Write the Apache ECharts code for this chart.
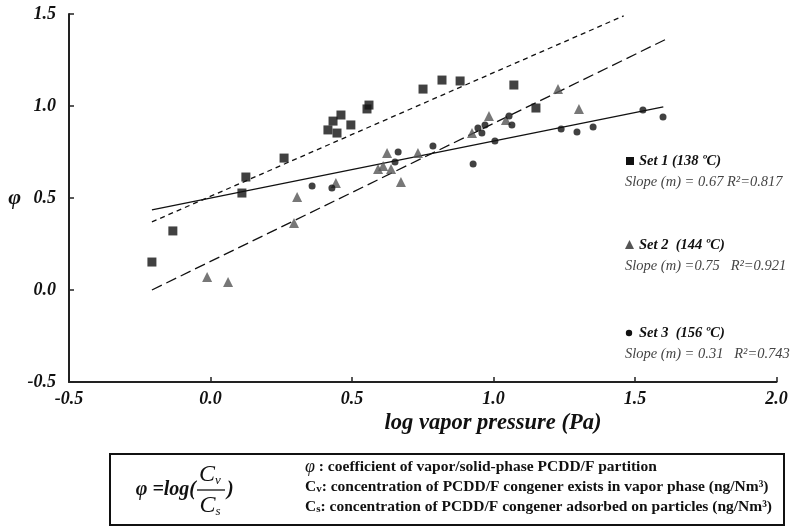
<!DOCTYPE html>
<html>
<head>
<meta charset="utf-8">
<script src="https://cdn.jsdelivr.net/npm/echarts@6/dist/echarts.min.js"></script>
<style>
    html, body { margin: 0; padding: 0; background: #fff; }
    #chart { width: 795px; height: 532px; }
</style>
</head>
<body>
<div id="chart"></div>
<script>
const SERIF = "'Liberation Serif', 'Times New Roman', serif";

// Set 1 (138 ºC) - squares
const set1 = [
    [-0.207, 0.152], [-0.133, 0.321], [0.111, 0.527], [0.125, 0.614],
    [0.26, 0.717], [0.415, 0.87], [0.433, 0.918], [0.447, 0.853],
    [0.461, 0.951], [0.496, 0.897], [0.553, 0.984], [0.56, 1.005],
    [0.751, 1.092], [0.818, 1.141], [0.882, 1.136], [1.072, 1.114],
    [1.15, 0.989],
];

// Set 2 (144 ºC) - triangles
const set2 = [
    [-0.012, 0.071], [0.062, 0.043], [0.295, 0.364], [0.306, 0.505],
    [0.443, 0.582], [0.592, 0.658], [0.61, 0.674], [0.638, 0.658],
    [0.624, 0.745], [0.673, 0.587], [0.733, 0.745], [0.924, 0.853],
    [0.984, 0.946], [1.044, 0.924], [1.228, 1.092], [1.302, 0.984],
];

// Set 3 (156 ºC) - circles
const set3 = [
    [0.359, 0.565], [0.429, 0.554], [0.663, 0.75], [0.652, 0.696],
    [0.786, 0.783], [0.928, 0.685], [0.945, 0.88], [0.959, 0.853],
    [0.97, 0.897], [1.005, 0.81], [1.055, 0.946], [1.065, 0.897],
    [1.239, 0.875], [1.295, 0.859], [1.352, 0.886], [1.528, 0.978],
    [1.599, 0.94],
];

// regression line end points
const fit1 = [[-0.207, 0.37], [1.46, 1.49]];
const fit2 = [[-0.207, 0.0], [1.606, 1.36]];
const fit3 = [[-0.207, 0.435], [1.6, 0.995]];

const xTicks = [-0.5, 2.0, 0.5];
const yTicks = [-0.5, 1.5, 0.5];

const legendItems = [
    { title: "Set 1 (138 ºC)", stat: "Slope (m) = 0.67 R²=0.817", y: 161 },
    { title: "Set 2  (144 ºC)", stat: "Slope (m) =0.75   R²=0.921", y: 245 },
    { title: "Set 3  (156 ºC)", stat: "Slope (m) = 0.31   R²=0.743", y: 333 },
];

const chart = echarts.init(document.getElementById("chart"));

const axisCommon = {
    type: "value",
    splitLine: { show: false },
    axisLine: { show: true, onZero: false, lineStyle: { color: "#222", width: 2 } },
    axisTick: { show: true, inside: true, length: 5, lineStyle: { color: "#222", width: 1.5 } },
    axisLabel: {
        color: "#111",
        fontFamily: SERIF,
        fontStyle: "italic",
        fontWeight: "bold",
        fontSize: 18,
        formatter: (v) => v.toFixed(1),
    },
};

const fitLine = (data, dash) => ({
    type: "line",
    data: data,
    symbol: "none",
    silent: true,
    z: 1,
    lineStyle: { color: "#111", width: 1.3, type: dash },
});

const legendGraphics = [];
legendItems.forEach((l, i) => {
    if (i === 0) {
        legendGraphics.push({ type: "rect", shape: { x: 626, y: l.y - 4, width: 8, height: 8 }, style: { fill: "#111" } });
    } else if (i === 1) {
        legendGraphics.push({ type: "polygon", shape: { points: [[625, l.y + 4], [634, l.y + 4], [629.5, l.y - 5]] }, style: { fill: "#555" } });
    } else {
        legendGraphics.push({ type: "circle", shape: { cx: 629, cy: l.y, r: 3.2 }, style: { fill: "#111" } });
    }
    legendGraphics.push({
        type: "text",
        x: 639,
        y: l.y,
        style: {
            text: l.title,
            font: `italic bold 14.5px ${SERIF}`,
            fill: "#111",
            verticalAlign: "middle",
        },
    });
    legendGraphics.push({
        type: "text",
        x: 625,
        y: l.y + 21,
        style: {
            text: l.stat,
            font: `italic 14.5px ${SERIF}`,
            fill: "#444",
            verticalAlign: "middle",
        },
    });
});

const boxGraphics = [
    { type: "rect", shape: { x: 110, y: 454, width: 674, height: 71 }, style: { fill: "none", stroke: "#111", lineWidth: 2 } },
    {
        type: "text", x: 196, y: 490,
        style: { text: "φ =log(", font: `italic bold 20px ${SERIF}`, fill: "#111", align: "right", verticalAlign: "middle" },
    },
    {
        type: "text", x: 210, y: 475,
        style: {
            text: "{c|C}{s|v}", align: "center", verticalAlign: "middle",
            rich: {
                c: { font: `italic 24px ${SERIF}`, fill: "#111" },
                s: { font: `italic 13px ${SERIF}`, fill: "#111", verticalAlign: "bottom" },
            },
        },
    },
    { type: "line", shape: { x1: 197, y1: 490, x2: 225, y2: 490 }, style: { stroke: "#111", lineWidth: 1.3 } },
    {
        type: "text", x: 210, y: 506,
        style: {
            text: "{c|C}{s|s}", align: "center", verticalAlign: "middle",
            rich: {
                c: { font: `italic 24px ${SERIF}`, fill: "#111" },
                s: { font: `italic 13px ${SERIF}`, fill: "#111", verticalAlign: "bottom" },
            },
        },
    },
    {
        type: "text", x: 227, y: 490,
        style: { text: ")", font: `italic bold 20px ${SERIF}`, fill: "#111", verticalAlign: "middle" },
    },
    {
        type: "text", x: 305, y: 467,
        style: {
            text: "{i|φ} : coefficient of vapor/solid-phase PCDD/F partition",
            font: `bold 15.5px ${SERIF}`, fill: "#111", verticalAlign: "middle",
            rich: { i: { font: `italic 18px ${SERIF}`, fill: "#111" } },
        },
    },
    {
        type: "text", x: 305, y: 487,
        style: {
            text: "C{s|v}: concentration of PCDD/F congener exists in vapor phase (ng/Nm³)",
            font: `bold 15.5px ${SERIF}`, fill: "#111", verticalAlign: "middle",
            rich: { s: { font: `bold 11px ${SERIF}`, fill: "#111", verticalAlign: "bottom" } },
        },
    },
    {
        type: "text", x: 305, y: 507,
        style: {
            text: "C{s|s}: concentration of PCDD/F congener adsorbed on particles (ng/Nm³)",
            font: `bold 15.5px ${SERIF}`, fill: "#111", verticalAlign: "middle",
            rich: { s: { font: `bold 11px ${SERIF}`, fill: "#111", verticalAlign: "bottom" } },
        },
    },
    {
        type: "text", x: 493, y: 423,
        style: {
            text: "log vapor pressure (Pa)",
            font: `italic bold 22.5px ${SERIF}`, fill: "#111",
            align: "center", verticalAlign: "middle",
        },
    },
];

chart.setOption({
    animation: false,
    backgroundColor: "#fff",
    grid: { left: 69, right: 18.5, top: 14, bottom: 150, containLabel: false },
    xAxis: {
        ...axisCommon,
        min: xTicks[0],
        max: xTicks[1],
        interval: xTicks[2],
        axisLabel: { ...axisCommon.axisLabel, margin: 8 },
    },
    yAxis: {
        ...axisCommon,
        min: yTicks[0],
        max: yTicks[1],
        interval: yTicks[2],
        name: "φ",
        nameLocation: "middle",
        nameRotate: 0,
        nameGap: 48,
        nameTextStyle: { fontFamily: SERIF, fontStyle: "italic", fontWeight: "bold", fontSize: 22, color: "#111" },
        axisLabel: { ...axisCommon.axisLabel, margin: 13 },
    },
    series: [
        fitLine(fit1, [5, 4]),
        fitLine(fit2, [11, 5]),
        fitLine(fit3, "solid"),
        { name: "Set 1", type: "scatter", data: set1, symbol: "rect", symbolSize: 9, itemStyle: { color: "#111" }, z: 3 },
        { name: "Set 2", type: "scatter", data: set2, symbol: "triangle", symbolSize: 10, itemStyle: { color: "#555" }, z: 3 },
        { name: "Set 3", type: "scatter", data: set3, symbol: "circle", symbolSize: 7, itemStyle: { color: "#111" }, z: 3 },
    ],
    graphic: legendGraphics.concat(boxGraphics),
});
</script>
</body>
</html>
